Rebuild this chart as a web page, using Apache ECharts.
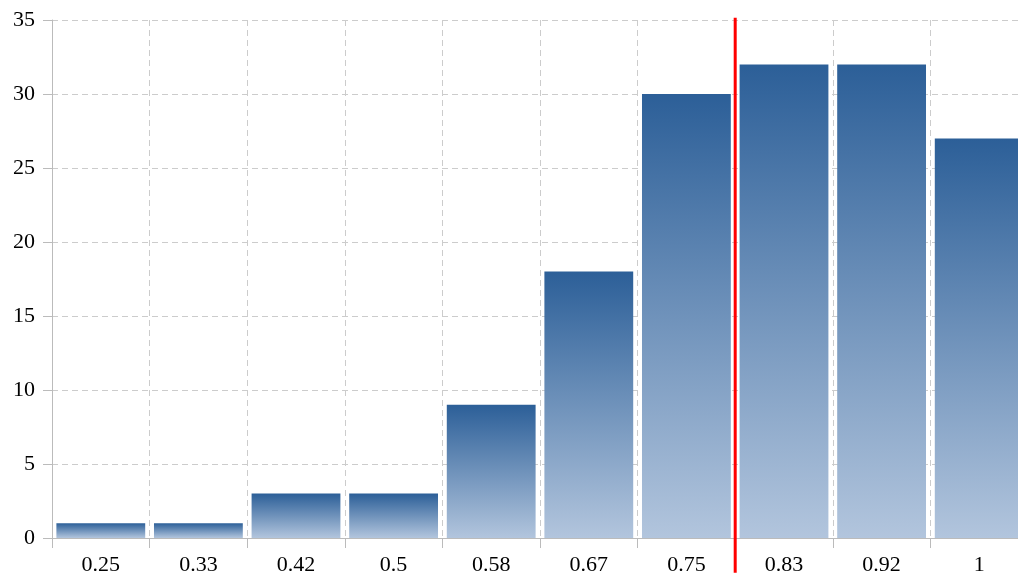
<!DOCTYPE html>
<html><head><meta charset="utf-8">
<script src="https://cdn.jsdelivr.net/npm/echarts@6/dist/echarts.min.js"></script>
<style>html,body{margin:0;padding:0;background:#fff;overflow:hidden;width:1018px;height:579px}#c{width:1028px;height:579px}</style>
</head><body><div id="c"></div>
<script>
const categories = ['0.25','0.33','0.42','0.5','0.58','0.67','0.75','0.83','0.92','1'];
const counts = [1,1,3,3,9,18,30,32,32,27];
const yTicks = {min:0, max:35, interval:5};
// threshold sits at the boundary between 0.75 and 0.83 (category index 6.5)
const thresholdIndex = 6.5;
const thresholdSpan = [-2.35, 35.15];

const font = 'Liberation Serif';
const chart = echarts.init(document.getElementById('c'), null, {renderer:'canvas'});
chart.setOption({
  animation:false,
  backgroundColor:'#fff',
  grid:{left:52, top:20, right:0, bottom:41, containLabel:false},
  xAxis:[{
    type:'category', data:categories, boundaryGap:true,
    axisLine:{show:true, onZero:false, lineStyle:{color:'#bbb', width:1}},
    axisTick:{show:true, length:10, lineStyle:{color:'#bbb'}},
    axisLabel:{color:'#000', fontFamily:font, fontSize:22, margin:16},
    splitLine:{show:true, lineStyle:{color:'#ccc', type:[6,4], width:1}}
  },{
    type:'value', min:-0.5, max:9.5, show:false
  }],
  yAxis:{
    type:'value', min:yTicks.min, max:yTicks.max, interval:yTicks.interval,
    axisLine:{show:true, onZero:false, lineStyle:{color:'#bbb', width:1}},
    axisTick:{show:true, length:9, lineStyle:{color:'#bbb'}},
    axisLabel:{color:'#000', fontFamily:font, fontSize:22, margin:17},
    splitLine:{show:true, lineStyle:{color:'#ccc', type:[6,4], width:1}}
  },
  series:[{
    type:'bar', data:counts, barCategoryGap:'9%',
    itemStyle:{color:new echarts.graphic.LinearGradient(0,0,0,1,[
      {offset:0, color:'#2c5f98'},{offset:1, color:'#b2c5dd'}])}
  },{
    type:'line', xAxisIndex:1, yAxisIndex:0, clip:false, symbol:'none', z:5,
    data:[[thresholdIndex, thresholdSpan[0]],[thresholdIndex, thresholdSpan[1]]],
    lineStyle:{color:'#ff0000', width:3}
  }]
});
</script></body></html>
